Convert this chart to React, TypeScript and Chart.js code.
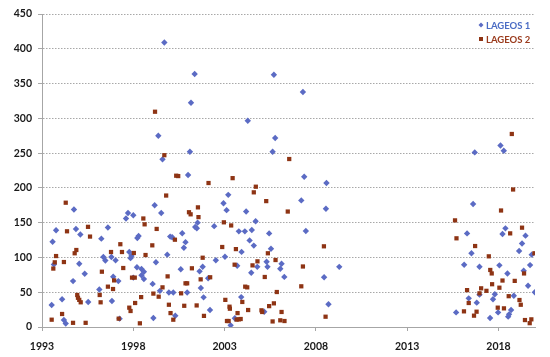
import React, { useEffect, useRef } from 'react';
import { Chart, registerables } from 'chart.js';

Chart.register(...registerables);

const seriesNames = ['LAGEOS 1', 'LAGEOS 2'];
const xTickValues = [1993, 1998, 2003, 2008, 2013, 2018];
const xRange = [1993, 2020];
const yRange = [0, 450];

// [year, value]
const lageos1Points: [number, number][] = [
  [1993.53, 31.6], [1993.58, 122.6], [1993.65, 90], [1993.77, 139], [1994.1, 39.8], [1994.2, 10], [1994.3, 5],
  [1994.7, 66], [1994.75, 169], [1994.86, 141], [1995.04, 91], [1995.1, 133], [1995.34, 76.6], [1995.53, 36],
  [1996.14, 54], [1996.25, 127], [1996.36, 100.6], [1996.47, 95.5], [1996.61, 143], [1996.8, 100.6], [1996.83, 37.4],
  [1996.9, 72.3], [1997.03, 95.8], [1997.18, 66], [1997.25, 12], [1997.6, 156], [1997.71, 164], [1997.78, 107.8],
  [1997.85, 99], [1997.9, 102], [1998.0, 160.6], [1998.0, 71], [1998.2, 85.8], [1998.22, 128], [1998.29, 130.8],
  [1998.45, 83.4], [1998.45, 74.3], [1998.58, 79.5], [1998.58, 69], [1999.06, 62], [1999.1, 13], [1999.17, 175],
  [1999.24, 93], [1999.37, 275], [1999.46, 52], [1999.53, 164], [1999.6, 241], [1999.7, 409], [1999.86, 104],
  [1999.95, 49.5], [2000.02, 130], [2000.13, 129], [2000.19, 49.5], [2000.3, 16.2], [2000.6, 83], [2000.68, 134.7],
  [2000.77, 114], [2000.86, 122], [2000.95, 49.5], [2001.0, 218.5], [2001.1, 252], [2001.16, 322.5], [2001.36, 363.7],
  [2001.39, 143.8], [2001.48, 142], [2001.52, 150], [2001.63, 80], [2001.7, 56], [2001.8, 86.6], [2001.85, 42.6],
  [2002.1, 70], [2002.2, 24.4], [2002.43, 145], [2002.52, 96], [2002.94, 178], [2003.02, 101], [2003.11, 168],
  [2003.2, 190], [2003.33, 2.4], [2003.56, 12.5], [2003.69, 88], [2003.78, 137.5], [2003.91, 43], [2003.93, 108],
  [2004.11, 137.5], [2004.18, 166], [2004.27, 296.6], [2004.37, 124.5], [2004.46, 78], [2004.49, 139.4], [2004.6, 117],
  [2004.7, 152], [2004.79, 86.5], [2005.17, 22], [2005.3, 93.8], [2005.35, 86.5], [2005.44, 134.6], [2005.54, 112.5],
  [2005.63, 252], [2005.7, 362.7], [2005.77, 271.7], [2006.05, 83.7], [2006.12, 91], [2006.27, 72], [2007.2, 182],
  [2007.29, 337.8], [2007.36, 216], [2007.45, 138], [2008.45, 71.6], [2008.55, 170], [2008.58, 207], [2008.69, 32.7],
  [2009.28, 86.5], [2015.68, 21], [2016.12, 89.6], [2016.28, 134.6], [2016.37, 41.2], [2016.52, 106], [2016.61, 176.8],
  [2016.7, 251], [2016.81, 35], [2016.96, 86.7], [2016.96, 46.5], [2017.54, 13], [2017.7, 40], [2017.8, 47],
  [2017.98, 21], [2018.05, 88.6], [2018.11, 261], [2018.22, 133.7], [2018.29, 253.5], [2018.38, 141.8], [2018.49, 77],
  [2018.53, 14.9], [2018.58, 18.2], [2018.69, 24.4], [2018.84, 45], [2019.13, 109.2], [2019.29, 120], [2019.38, 81],
  [2019.48, 131.3], [2019.62, 59.4], [2019.73, 89], [2019.82, 104], [2019.99, 50],
];

const lageos2Points: [number, number][] = [
  [1993.53, 10.5], [1993.62, 84], [1993.7, 93], [1993.77, 102], [1994.1, 18.7], [1994.2, 93.4], [1994.3, 178.7],
  [1994.37, 137.6], [1994.7, 6], [1994.79, 106], [1994.88, 110.7], [1994.93, 46], [1994.97, 42], [1995.04, 39],
  [1995.12, 35.5], [1995.39, 6], [1995.52, 144], [1995.63, 130], [1996.16, 46], [1996.21, 35.5], [1996.28, 79.5],
  [1996.61, 58], [1996.78, 107.8], [1996.89, 54.6], [1996.95, 67], [1997.2, 12], [1997.29, 119], [1997.38, 107.8],
  [1997.45, 84.8], [1997.78, 27.8], [1997.85, 23], [1997.93, 71], [1998.03, 106.4], [1998.08, 71], [1998.1, 34.5],
  [1998.36, 5.3], [1998.43, 43], [1998.55, 156], [1998.62, 147.6], [1998.67, 103.5], [1999.04, 117.4], [1999.1, 48],
  [1999.19, 309.5], [1999.28, 141], [1999.39, 43.6], [1999.6, 57], [1999.7, 247], [1999.8, 189], [1999.88, 72.8],
  [1999.95, 32], [2000.04, 20], [2000.19, 10.5], [2000.28, 125.5], [2000.35, 217.5], [2000.46, 217], [2000.62, 48.4],
  [2000.79, 30.5], [2000.86, 62.8], [2000.95, 62.8], [2001.05, 165], [2001.14, 162], [2001.21, 84.4], [2001.47, 31],
  [2001.54, 172], [2001.57, 158], [2001.69, 68.5], [2001.8, 99.6], [2001.87, 16], [2002.12, 207], [2002.21, 71.5],
  [2002.87, 115], [2002.96, 150.5], [2003.04, 39], [2003.13, 8.6], [2003.22, 8.6], [2003.27, 29.2], [2003.29, 26.3],
  [2003.36, 146], [2003.44, 214], [2003.55, 89.6], [2003.62, 112], [2003.66, 10.6], [2003.71, 20], [2003.78, 11],
  [2003.88, 11.5], [2003.97, 36], [2004.13, 58], [2004.24, 57], [2004.29, 24.4], [2004.53, 88.6], [2004.6, 193.6],
  [2004.71, 201.7], [2004.8, 94.4], [2005.02, 24], [2005.06, 21.6], [2005.2, 71.9], [2005.28, 181], [2005.37, 106],
  [2005.44, 30], [2005.63, 8], [2005.7, 34], [2005.79, 96.3], [2005.86, 50.3], [2006.05, 9.6], [2006.12, 21.6],
  [2006.28, 8.6], [2006.46, 166], [2006.54, 241.5], [2007.2, 58.5], [2007.29, 87], [2008.44, 116], [2008.53, 14.8],
  [2015.62, 153.3], [2015.7, 127.5], [2016.11, 22.5], [2016.28, 53], [2016.37, 34.5], [2016.66, 16.3], [2016.72, 116.4],
  [2016.8, 22], [2016.96, 48.4], [2017.05, 55.6], [2017.34, 52], [2017.47, 101.6], [2017.55, 82], [2017.63, 77],
  [2017.65, 61.5], [2017.96, 27.8], [2018.05, 56.5], [2018.14, 167.5], [2018.22, 66.8], [2018.3, 26.8], [2018.56, 44.3],
  [2018.64, 134.6], [2018.73, 277.5], [2018.8, 197.7], [2018.89, 66.3], [2019.15, 38.8], [2019.22, 32], [2019.29, 142.8],
  [2019.4, 77], [2019.45, 10], [2019.71, 5.5], [2019.8, 11], [2019.97, 106],
];

const BLUE = '#5b6bc4';
const RED = '#8e3414';
const BLUE_TEXT = '#4a6cc4';
const RED_TEXT = '#9a3a1c';
const FONT = 'Lato, "Open Sans", sans-serif';

const legendPlugin = {
  id: 'insideLegend',
  afterDraw(chart: any) {
    const { ctx, chartArea } = chart;
    const items = chart.data.datasets.map((ds: any) => ({
      label: ds.label,
      color: ds.legendTextColor,
      marker: ds.backgroundColor,
      style: ds.pointStyle,
    }));
    const x0 = chartArea.right - 54;
    let y = chartArea.top + 11;
    ctx.save();
    ctx.font = `bold 9.5px ${FONT}`;
    ctx.textBaseline = 'middle';
    for (const it of items) {
      ctx.fillStyle = it.marker;
      ctx.beginPath();
      if (it.style === 'rectRot') {
        ctx.moveTo(x0, y - 2.5);
        ctx.lineTo(x0 + 2.5, y);
        ctx.lineTo(x0, y + 2.5);
        ctx.lineTo(x0 - 2.5, y);
        ctx.closePath();
      } else {
        ctx.rect(x0 - 2, y - 2, 4, 4);
      }
      ctx.fill();
      ctx.fillStyle = it.color;
      ctx.fillText(it.label, x0 + 5, y + 0.5);
      y += 14;
    }
    ctx.restore();
  },
};

export default function App() {
  const ref = useRef<HTMLCanvasElement | null>(null);
  useEffect(() => {
    if (!ref.current) return;
    const chart = new Chart(ref.current, {
      type: 'scatter',
      data: {
        datasets: [
          {
            label: seriesNames[0],
            data: lageos1Points.map(([x, y]) => ({ x, y })),
            pointStyle: 'rectRot',
            pointRadius: 3.2,
            pointBorderWidth: 0,
            backgroundColor: BLUE,
            borderColor: BLUE,
            order: 1,
            legendTextColor: BLUE_TEXT,
          } as any,
          {
            label: seriesNames[1],
            data: lageos2Points.map(([x, y]) => ({ x, y })),
            pointStyle: 'rect',
            pointRadius: 3,
            pointBorderWidth: 0,
            backgroundColor: RED,
            borderColor: RED,
            order: 0,
            legendTextColor: RED_TEXT,
          } as any,
        ],
      },
      options: {
        responsive: false,
        animation: false,
        layout: { padding: { top: 14, right: 15, left: 0, bottom: 0 } },
        plugins: { legend: { display: false }, tooltip: { enabled: false } },
        scales: {
          x: {
            type: 'linear',
            min: xRange[0],
            max: xRange[1],
            afterBuildTicks: (s: any) => {
              s.ticks = xTickValues.map((v) => ({ value: v }));
            },
            afterFit: (s: any) => {
              s.height = 30;
            },
            grid: { drawOnChartArea: false, drawTicks: true, tickLength: 4, color: '#a6a6a6' },
            border: { display: true, color: '#a6a6a6', width: 1 },
            ticks: {
              padding: 9,
              color: '#1a1a1a',
              font: { family: FONT, size: 10.5, weight: 'bold' },
              callback: (v: any) => String(v),
              maxRotation: 0,
            },
          },
          y: {
            type: 'linear',
            min: yRange[0],
            max: yRange[1],
            afterFit: (s: any) => {
              s.width = 42;
            },
            grid: { color: '#a8a8a8', tickLength: 4, drawTicks: true },
            border: { display: true, color: '#a6a6a6', width: 1, dash: [1.5, 1.5] },
            ticks: {
              stepSize: 50,
              padding: 6,
              color: '#1a1a1a',
              font: { family: FONT, size: 10.5, weight: 'bold' },
            },
          },
        },
      },
      plugins: [legendPlugin],
    });
    return () => chart.destroy();
  }, []);
  return (
    <div style={{ position: 'absolute', left: 0, top: 0, width: 550, height: 357, background: '#fff' }}>
      <canvas ref={ref} width={550} height={357} />
    </div>
  );
}
